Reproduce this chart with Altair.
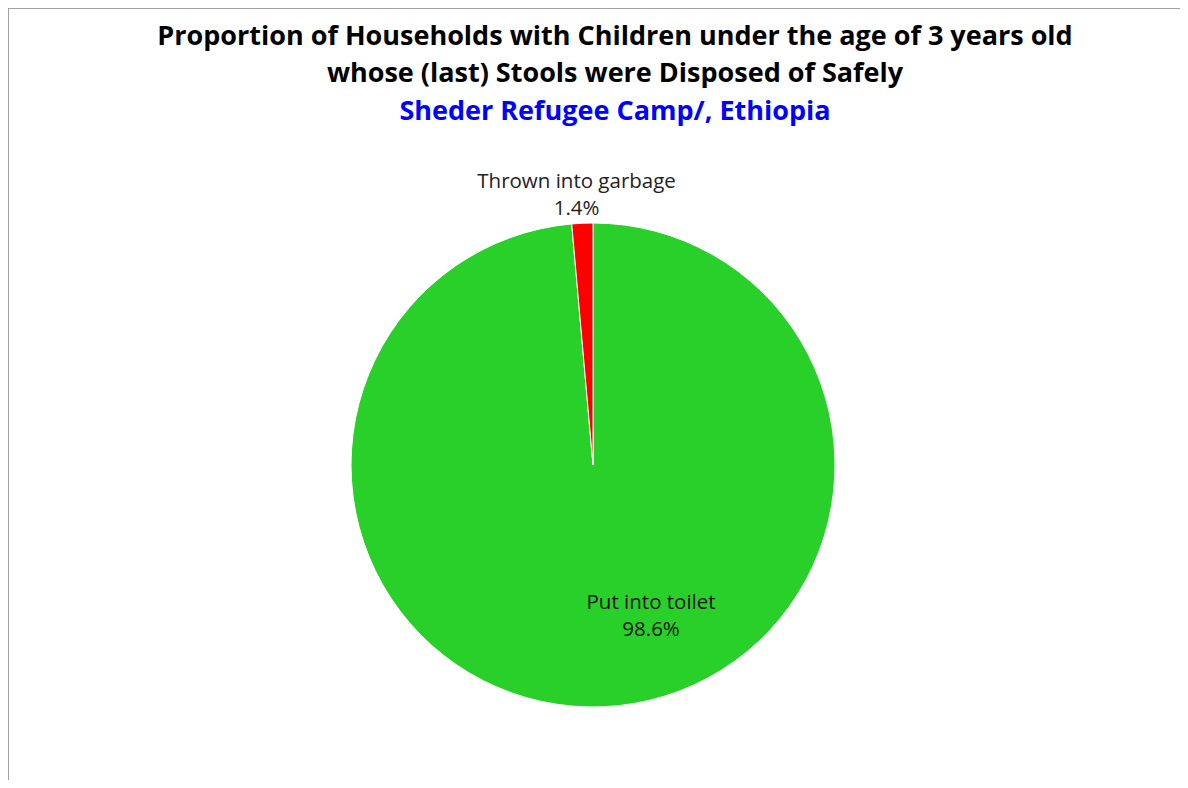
import altair as alt
import pandas as pd

categories = ["Put into toilet", "Thrown into garbage"]
values = [98.6, 1.4]
colors = ["#2AD02A", "#FF0000"]
title_lines = [
    "Proportion of Households with Children under the age of 3 years old",
    "whose (last) Stools were Disposed of Safely",
    "Sheder Refugee Camp/, Ethiopia",
]

df = pd.DataFrame({"category": categories, "value": values, "order": list(range(len(categories)))})

FONT = "Open Sans"
CX, CY, R = 585, 457, 242

base = alt.Chart(df).encode(
    theta=alt.Theta("value:Q", stack=True),
    order=alt.Order("order:Q"),
)

pie = base.mark_arc(radius=R, stroke="white", strokeWidth=1).encode(
    color=alt.Color("category:N", scale=alt.Scale(domain=categories, range=colors), legend=None),
    x=alt.value(CX), y=alt.value(CY),
)

lab = base.transform_calculate(
    label="datum.category + '\\n' + format(datum.value, '.1f') + '%'"
)

lab_out = lab.transform_calculate(
    txt="datum.category == 'Thrown into garbage' ? datum.label : ''"
).mark_text(radius=283, dx=-4, font=FONT, fontSize=20.5, color="#222222", lineBreak="\n",
            align="center", baseline="middle", lineHeight=27).encode(
    text="txt:N", x=alt.value(CX), y=alt.value(CY))

lab_in = lab.transform_calculate(
    txt="datum.category == 'Put into toilet' ? datum.label : ''"
).mark_text(radius=138, dx=52, font=FONT, fontSize=20.5, color="#111111", lineBreak="\n",
            align="center", baseline="middle", lineHeight=27).encode(
    text="txt:N", x=alt.value(CX), y=alt.value(CY))

def title_layer(text, y, color, size):
    return alt.Chart(pd.DataFrame({"t": [text]})).mark_text(
        font=FONT, fontSize=size, fontWeight="bold", color=color,
        align="center", baseline="middle"
    ).encode(text="t:N", x=alt.value(607), y=alt.value(y))

t1 = title_layer(title_lines[0], 29, "#000000", 27)
t2 = title_layer(title_lines[1], 66, "#000000", 27)
t3 = title_layer(title_lines[2], 104, "#0000FF", 27)

border_top = alt.Chart(pd.DataFrame({"k": [0]})).mark_rule(color="#8c8c8c", strokeWidth=1.5).encode(
    x=alt.value(0), x2=alt.value(1172), y=alt.value(0))
border_left = alt.Chart(pd.DataFrame({"k": [0]})).mark_rule(color="#8c8c8c", strokeWidth=1.5).encode(
    x=alt.value(0), y=alt.value(0), y2=alt.value(772))

chart = alt.layer(border_top, border_left, pie, lab_out, lab_in, t1, t2, t3).properties(
    width=1172, height=772, padding=0, autosize=alt.AutoSizeParams(type="none")
).configure_view(stroke=None).configure(background="white")

chart.save("out.html", embed_options={"renderer": "svg", "actions": False})
